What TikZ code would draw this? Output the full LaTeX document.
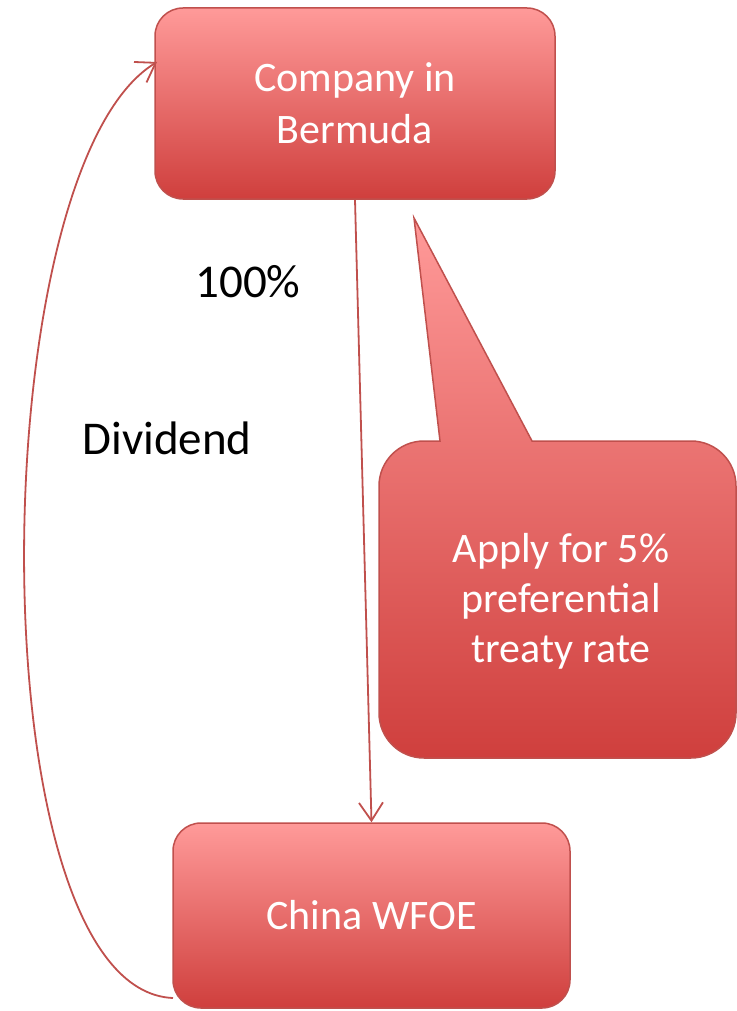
\documentclass[tikz,border=0pt]{standalone}
\usepackage{fontspec}
\setmainfont{Carlito}
\usetikzlibrary{arrows.meta}
\definecolor{gtop}{RGB}{255,154,153}
\definecolor{gbot}{RGB}{207,63,61}
\definecolor{edge}{RGB}{192,80,77}
\tikzset{
  box/.style={rectangle, rounded corners=28pt, draw=edge, line width=1.5pt,
    top color=gtop, bottom color=gbot, text=white, align=center,
    font=\fontsize{42}{52}\selectfont, inner sep=0pt},
  lbl/.style={text=black, font=\fontsize{47}{56}\selectfont, inner sep=0pt},
  conn/.style={draw=edge, line width=1.8pt, -{Straight Barb[length=18pt,width=24pt,line width=1.8pt]}}
}
\begin{document}
\begin{tikzpicture}[x=1pt,y=1pt]
\useasboundingbox (0,0) rectangle (736,-1011);
% boxes
\node[box, minimum width=400pt, minimum height=191pt] (top) at (355,-103.5) {Company in\\Bermuda};
\node[box, minimum width=397pt, minimum height=185pt] (bot) at (371.5,-915.5) {China WFOE};
% callout
\path[draw=edge, line width=1.5pt, top color=gtop, bottom color=gbot]
  (379,-486) arc[start angle=180,end angle=90,radius=45]
  -- (440,-441) -- (414,-218) -- (532,-441) -- (691,-441)
  arc[start angle=90,end angle=0,radius=45]
  -- (736,-713) arc[start angle=0,end angle=-90,radius=45]
  -- (424,-758) arc[start angle=-90,end angle=-180,radius=45]
  -- cycle;
\node[text=white, align=center, font=\fontsize{42}{50}\selectfont, inner sep=0pt] (call) at (561,-601)
  {Apply for 5\%\\preferential\\treaty rate};
% labels
\node[lbl] (pct) at (248,-282) {100\%};
\node[lbl] (div) at (167,-438) {Dividend};
% connectors
\coordinate (dstart) at (173,-998);
\coordinate (dend) at (157,-62);
\draw[conn] (top.south) -- (bot.north);
\draw[conn] (dstart) .. controls (-25,-990) and (-20,-170) .. (dend);
\end{tikzpicture}
\end{document}
